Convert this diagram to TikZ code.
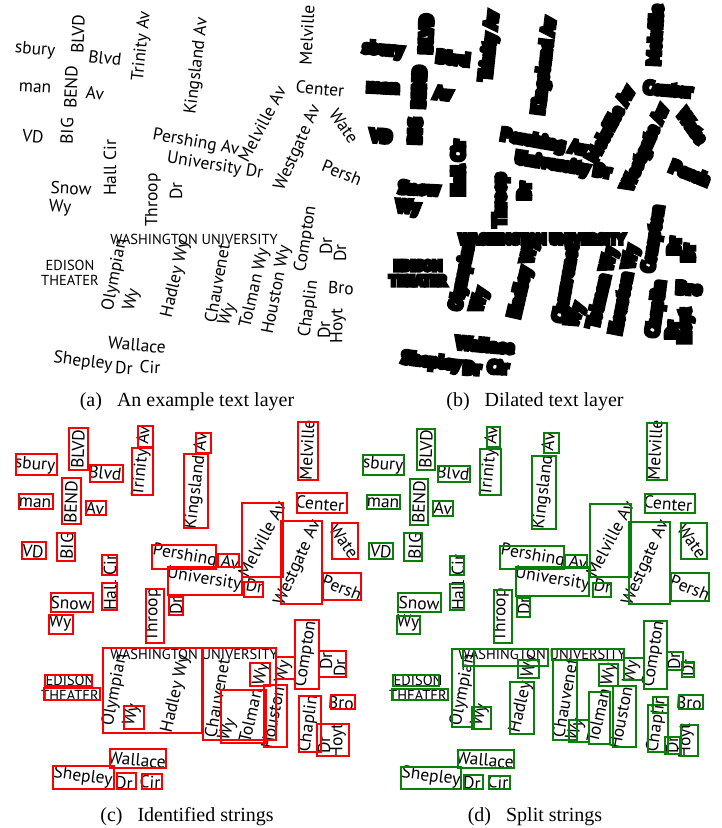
\documentclass[tikz,border=0pt]{standalone}
\usepackage{fontspec}
\setmainfont{Liberation Serif}
\newfontfamily\mapfont{PT Sans}
\newfontfamily\blobfont[FakeBold=25]{PT Sans Bold}
\usetikzlibrary{positioning}

\definecolor{boxred}{RGB}{250,0,0}
\definecolor{boxgreen}{RGB}{10,128,10}

% all street names of the text layer, in pixel units of panel (a)
\newcommand\streetlayer{%
\foreach \px/\py/\ang/\word [count=\k] in {
  35/50/-5/sbury, 78/34/88/BLVD, 105/58/-7/Blvd, 142/46/84/Trinity Av,
  197/66/83/Kingsland Av, 307/35/87/Melville, 35/88/-3/man, 71/87/88/BEND,
  67/131/88/BIG, 95/93/-5/Av, 33/136/-5/VD, 110/168/90/Hall Cir,
  196/143/-10/Pershing Av, 215/166/-9/University Dr, 262/124/62/Melville Av,
  320/89/-5/Center, 298/148/66/Westgate Av, 344/126/-55/Wate, 342/173/-22/Persh,
  71/188/-3/Snow, 60/208/-3/Wy, 153/200/90/Throop, 176/191/90/Dr,
  115/275/79/Olympian, 132/300/75/Wy, 176/279/77/Hadley Wy, 217/283/80/Chauvenet,
  228/315/70/Wy, 255/288/77/Tolman Wy, 277/290/79/Houston Wy, 306/239/81/Compton,
  326/246/90/Dr, 340/253/90/Dr, 341/288/-3/Bro, 309/309/82/Chaplin, 324/330/90/Dr,
  338/326/90/Hoyt, 137/345/-5/Wallace, 83/362/-7/Shepley, 124/368/-3/Dr, 150/367/-3/Cir}
  \node[street, rotate=\ang] (word\k) at (\px,\py) {\word};
\node[campus] (univ) at (194,239) {WASHINGTON UNIVERSITY};
\node[campus, align=center] (theater) at (70,273) {EDISON\\THEATER};
}

\begin{document}
\begin{tikzpicture}[
  x=1pt, y=-1pt,
  street/.style={inner sep=0pt, font=\mapfont\fontsize{17.5}{17.5}\selectfont},
  campus/.style={inner sep=0pt, font=\mapfont\fontsize{14.5}{15}\selectfont},
  blob/.style={
    street/.append style={font=\blobfont\fontsize{17.5}{17.5}\selectfont},
    campus/.append style={font=\blobfont\fontsize{14.5}{15}\selectfont}},
  idbox/.style={draw=boxred, line width=2.5pt},
  splitbox/.style={draw=boxgreen, line width=2pt},
  caption/.style={anchor=base, font=\fontsize{20}{22}\selectfont}
]
\useasboundingbox (0,0) rectangle (722,828);

% (a) text layer
\begin{scope}[name prefix=a-]
  \streetlayer
\end{scope}

% (b) dilated
\begin{scope}[shift={(348,0)}, name prefix=b-, blob]
  \streetlayer
\end{scope}

% (c) identified strings
\begin{scope}[shift={(0,415)}, name prefix=c-]
  \streetlayer
\end{scope}
\foreach \xa/\ya/\xb/\yb in {
  16/454/57/475, 69/428/88/470, 90/465/123/482, 132/448/153/495, 138/426/153/447,
  196/433/211/453, 184/454/208/528, 298/422/318/480, 19/494/53/509, 62/478/81/524,
  86/501/106/515, 297/493/347/513, 242/503/283/577, 281/521/322/604, 332/523/358/559,
  22/542/46/559, 57/533/75/561, 152/545/216/569, 218/554/239/567, 168/567/242/595,
  244/582/263/597, 323/573/361/600, 102/555/117/575, 102/583/117/610, 51/593/93/612,
  146/589/164/643, 169/597/183/615, 49/615/73/634, 103/648/202/733, 203/648/276/740,
  250/663/270/686, 276/657/295/679, 295/620/319/689, 319/651/346/677, 221/690/266/743,
  264/685/287/747, 299/696/321/752, 331/695/355/709, 317/724/349/756, 45/675/92/686,
  44/688/100/700, 124/706/144/729, 110/749/166/768, 53/766/114/789, 117/773/136/789,
  142/774/162/789}
  \draw[idbox] (\xa,\ya) rectangle (\xb,\yb);

% (d) split strings
\begin{scope}[shift={(348,415)}, name prefix=d-]
  \streetlayer
\end{scope}
\foreach \xa/\ya/\xb/\yb in {
  363/455/404/475, 417/429/435/470, 438/466/470/482, 480/449/501/495, 487/427/500/447,
  544/433/559/453, 532/456/556/529, 647/423/667/480, 367/495/400/509, 410/479/428/525,
  433/501/453/516, 645/494/695/513, 590/504/631/577, 629/522/670/604, 681/523/707/559,
  369/543/393/559, 404/533/422/561, 500/546/564/569, 565/555/587/568, 516/567/589/596,
  593/583/611/597, 671/573/709/601, 450/556/464/575, 450/584/464/610, 398/593/441/612,
  494/590/512/643, 517/598/530/617, 397/616/420/634, 463/649/548/666, 452/649/474/727,
  472/707/491/729, 518/660/539/678, 510/682/534/734, 552/649/624/660, 553/660/577/740,
  569/720/589/742, 589/692/610/744, 599/664/618/686, 613/686/636/747, 624/658/644/680,
  644/621/667/689, 667/652/683/670, 682/662/694/677, 679/695/703/709, 648/705/668/752,
  653/697/668/713, 665/737/680/754, 681/725/698/756, 393/675/439/686, 392/689/448/700,
  458/750/514/768, 401/767/461/789, 464/775/483/789, 489/776/510/789}
  \draw[splitbox] (\xa,\ya) rectangle (\xb,\yb);

% captions
\node[caption] (capa) at (187,406) {(a)\hspace{0.75em}An example text layer};
\node[caption] (capb) at (535,406) {(b)\hspace{0.75em}Dilated text layer};
\node[caption] (capc) at (187,821) {(c)\hspace{0.75em}Identified strings};
\node[caption] (capd) at (535,821) {(d)\hspace{0.75em}Split strings};
\end{tikzpicture}
\end{document}
